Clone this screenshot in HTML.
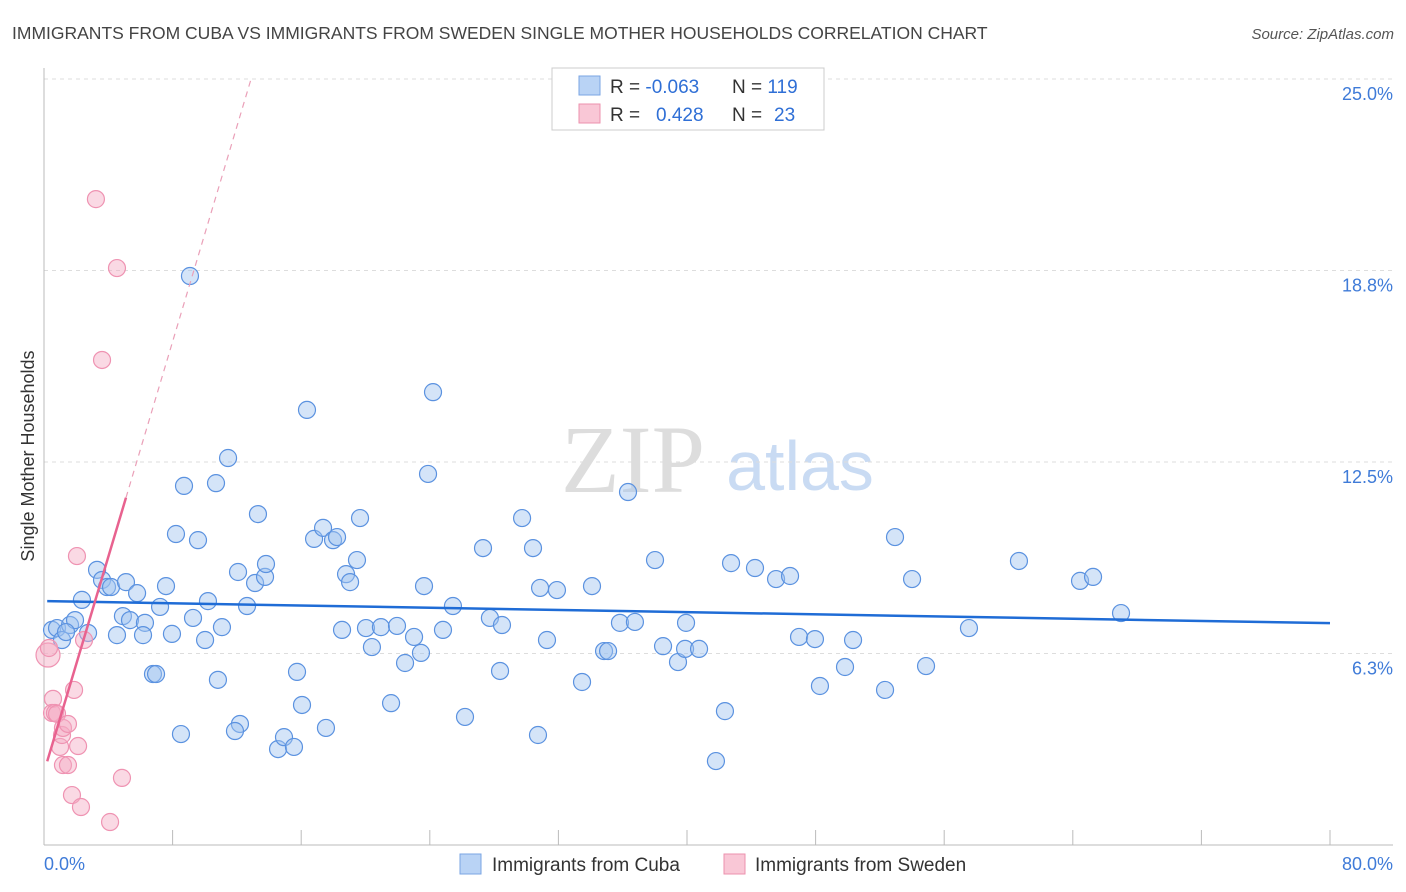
<!DOCTYPE html>
<html><head><meta charset="utf-8"><style>
body{margin:0;background:#fff;font-family:"Liberation Sans",sans-serif}
#wrap{position:relative;width:1406px;height:892px;overflow:hidden}
</style></head><body>
<div id="wrap">
<svg id="svg" width="1406" height="892" xmlns="http://www.w3.org/2000/svg">
<text x="12" y="39" font-size="17.5" fill="#444">IMMIGRANTS FROM CUBA VS IMMIGRANTS FROM SWEDEN SINGLE MOTHER HOUSEHOLDS CORRELATION CHART</text>
<text x="1394" y="39" font-size="15" fill="#555" font-style="italic" text-anchor="end">Source: ZipAtlas.com</text>
<text x="633" y="492" font-size="96" fill="#ddd" font-family="Liberation Serif,serif" text-anchor="middle">ZIP</text>
<text x="800" y="490" font-size="70" fill="#c9dbf3" text-anchor="middle">atlas</text>
<text transform="translate(34,456) rotate(-90)" font-size="18" fill="#333" text-anchor="middle">Single Mother Households</text>
<g id="grid"></g><g id="marks"></g>
<g>
<rect x="552" y="68" width="272" height="62" fill="#fff" stroke="#ccc"/>
<rect x="579" y="76" width="21" height="19" fill="#b9d3f5" stroke="#7aa5e3"/>
<rect x="579" y="104" width="21" height="19" fill="#f9c7d6" stroke="#ec92ae"/>
<text x="610" y="93" font-size="19" fill="#333">R = <tspan fill="#2f6fd6">-0.063</tspan><tspan x="732">N = </tspan><tspan fill="#2f6fd6">119</tspan></text>
<text x="610" y="121" font-size="19" fill="#333">R = <tspan x="656" fill="#2f6fd6">0.428</tspan><tspan x="732">N = </tspan><tspan x="774" fill="#2f6fd6">23</tspan></text>
</g>
<g>
<rect x="460" y="854" width="21" height="20" fill="#b9d3f5" stroke="#7aa5e3"/>
<text x="492" y="871" font-size="19" fill="#333">Immigrants from Cuba</text>
<rect x="724" y="854" width="21" height="20" fill="#f9c7d6" stroke="#ec92ae"/>
<text x="755" y="871" font-size="19" fill="#333">Immigrants from Sweden</text>
</g>
</svg>
</div>
<script>
const yTicks=[25,18.75,12.5,6.25];
const yTickLabels=["25.0%","18.8%","12.5%","6.3%"];
const xTicks=[0,8,16,24,32,40,48,56,64,72,80];
const xEndLabels=["0.0%","80.0%"];
const cubaX=[0.50,0.81,1.12,1.62,1.93,1.37,2.74,2.36,3.30,3.61,3.92,4.17,5.10,5.79,4.91,5.35,6.28,6.16,4.54,7.22,7.59,7.96,6.78,6.97,8.52,8.21,8.71,9.08,9.58,9.27,10.02,10.20,10.82,11.07,10.70,11.45,12.07,12.19,11.88,12.63,13.13,13.31,13.75,13.81,14.56,14.93,15.55,15.74,16.05,16.36,16.80,17.36,17.98,18.23,17.54,18.54,18.79,19.04,19.47,19.66,20.03,20.40,20.96,21.59,21.96,22.46,23.02,23.45,23.64,23.89,24.20,24.82,25.44,26.19,27.31,27.74,28.37,28.49,29.74,30.42,30.73,30.86,31.29,31.91,33.47,34.09,34.84,35.09,35.83,36.33,36.76,38.01,38.51,39.44,39.88,39.94,40.75,41.80,42.36,42.74,44.23,45.54,46.41,46.97,47.96,48.27,49.83,50.33,52.32,52.94,54.00,54.87,57.54,60.65,64.45,65.26,67.00];
const cubaY=[7.02,7.08,6.69,7.18,7.34,6.95,6.92,8.00,8.98,8.65,8.42,8.42,8.58,8.22,7.47,7.34,7.25,6.85,6.85,7.77,8.45,6.89,5.58,5.58,3.62,10.15,11.72,18.57,9.95,7.41,6.69,7.96,5.39,7.11,11.81,12.63,8.91,3.95,3.72,7.80,8.55,10.80,8.75,9.17,3.13,3.52,3.20,5.65,4.57,14.20,9.99,10.35,9.95,10.05,3.82,7.02,8.84,8.58,9.30,10.67,7.08,6.46,7.11,4.63,7.15,5.94,6.79,6.27,8.45,12.11,14.78,7.02,7.80,4.18,9.69,7.41,5.68,7.18,10.67,9.69,3.59,8.39,6.69,8.32,5.32,8.45,6.33,6.33,7.25,11.52,7.28,9.30,6.49,5.97,6.40,7.25,6.40,2.74,4.37,9.20,9.04,8.68,8.78,6.79,6.72,5.19,5.81,6.69,5.06,10.05,8.68,5.84,7.08,9.27,8.62,8.75,7.57];
const swedenX=[0.25,0.31,0.56,0.50,0.68,0.81,1.00,1.12,1.18,1.49,1.87,2.05,2.12,2.49,1.18,1.49,1.74,2.30,3.23,3.61,4.54,4.85,4.11];
const swedenY=[6.20,6.43,4.77,4.31,4.31,4.28,3.20,3.59,3.82,3.95,5.06,9.43,3.23,6.69,2.61,2.61,1.63,1.24,21.08,15.83,18.83,2.19,0.75];
const cubaTrend=[7.96,-0.009]; // intercept, slope
const swedenTrend=[2.38,1.756];
const swedenSolidEnd=5.1, swedenDashEnd=12.9;

const X=v=>44+v/80*1286, Y=v=>845-v/25*766;
const NS="http://www.w3.org/2000/svg";
const svg=document.getElementById('svg'),grid=document.getElementById('grid'),marks=document.getElementById('marks');
function mk(tag,attrs,parent){const e=document.createElementNS(NS,tag);for(const k in attrs)e.setAttribute(k,attrs[k]);parent.appendChild(e);return e;}
yTicks.forEach((t,i)=>{
  const l=mk('line',{x1:44,x2:1393,y1:Y(t),y2:Y(t),stroke:'#ddd','stroke-dasharray':'4,4'},grid);
  
  
  const tx=mk('text',{x:1393,y:Y(t)+21,'font-size':18,fill:'#3f7bd8','text-anchor':'end'},grid);
  tx.textContent=yTickLabels[i];
  
  
});
const ax=mk('line',{x1:44,x2:44,y1:68,y2:845,stroke:'#bbb'},grid);


const bx=mk('line',{x1:44,x2:1393,y1:845,y2:845,stroke:'#bbb'},grid);


xTicks.forEach(t=>{
  const l=mk('line',{x1:X(t),x2:X(t),y1:830,y2:845,stroke:'#bbb'},grid);
  
  
});
[[0,'start',44],[80,'end',1393]].forEach((d,i)=>{
  const tx=mk('text',{x:d[2],y:870,'font-size':18,fill:'#3f7bd8','text-anchor':d[1]},grid);
  tx.textContent=xEndLabels[i];
  
  
});
cubaX.forEach((x,i)=>{
  const c=mk('circle',{cx:X(x),cy:Y(cubaY[i]),r:8.5,fill:'rgba(160,195,240,0.45)',stroke:'#5b92e0','stroke-width':1.2},marks);
  
  
});
swedenX.forEach((x,i)=>{
  const c=mk('circle',{cx:X(x),cy:Y(swedenY[i]),r:i===0?12:8.5,fill:'rgba(245,170,195,0.45)',stroke:'#ef93b2','stroke-width':1.2},marks);
  
  
});
const bl=mk('line',{x1:X(0.2),y1:Y(cubaTrend[0]+cubaTrend[1]*0.2),x2:X(80),y2:Y(cubaTrend[0]+cubaTrend[1]*80),stroke:'#1f6cd6','stroke-width':2.5},marks);


const f=x=>swedenTrend[0]+swedenTrend[1]*x;
const ps=mk('line',{x1:X(0.2),y1:Y(f(0.2)),x2:X(swedenSolidEnd),y2:Y(f(swedenSolidEnd)),stroke:'#e8628f','stroke-width':2.5},marks);


const pd=mk('line',{x1:X(swedenSolidEnd),y1:Y(f(swedenSolidEnd)),x2:X(swedenDashEnd),y2:Y(f(swedenDashEnd)),stroke:'#eaa0b8','stroke-width':1.2,'stroke-dasharray':'6,5'},marks);


</script>
</body></html>
